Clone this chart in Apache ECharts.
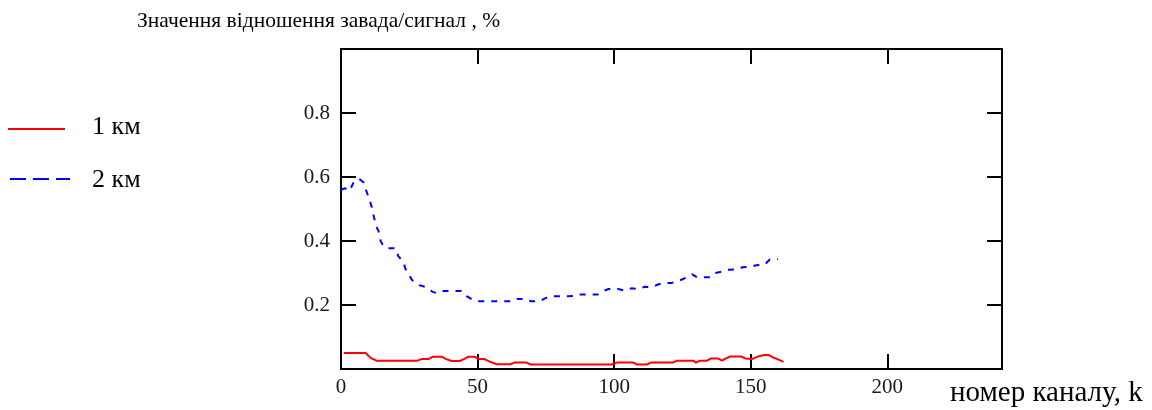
<!DOCTYPE html>
<html>
<head>
<meta charset="utf-8">
<style>
  html, body { margin: 0; padding: 0; background: #fff; }
  #chart { width: 1152px; height: 410px; }
</style>
<script src="https://cdn.jsdelivr.net/npm/echarts@6/dist/echarts.min.js"></script>
</head>
<body>
<div id="chart"></div>
<script>
// Channel number k and the noise/signal ratio for each cable length
const k1km = [1, 9, 11, 13, 28, 29.5, 32, 33.5, 37, 38.5, 40.5, 43.5, 45, 46.5, 49, 50.5, 52.5, 54.5, 57, 62, 63.5, 68, 69.5, 99, 101, 107, 108.5, 112, 113.5, 121.5, 123, 129, 130, 131.5, 134, 135.5, 138, 139.5, 141, 142.5, 146.5, 148, 150.5, 153, 155, 156.5, 158.5, 160, 162];
const v1km = [0.050, 0.050, 0.034, 0.026, 0.026, 0.031, 0.031, 0.038, 0.038, 0.031, 0.025, 0.025, 0.031, 0.038, 0.038, 0.031, 0.031, 0.023, 0.015, 0.015, 0.020, 0.020, 0.014, 0.014, 0.020, 0.020, 0.014, 0.014, 0.020, 0.020, 0.026, 0.026, 0.020, 0.026, 0.026, 0.033, 0.033, 0.026, 0.033, 0.039, 0.039, 0.033, 0.031, 0.040, 0.044, 0.044, 0.035, 0.030, 0.022];

const k2km = [0, 1.5, 2.6, 3.6, 5, 7, 8.4, 9.2, 10.4, 11.3, 12.2, 13, 13.8, 14.5, 15.5, 17, 20, 21, 22.8, 23.5, 24.6, 26, 28.6, 31, 33.6, 35.5, 37.6, 40, 44, 46, 47.7, 50, 58, 63, 64.5, 68, 69.5, 73, 74.5, 76.4, 83, 85, 87, 94, 96.4, 98, 101.5, 104, 106.3, 109, 111.2, 114, 116, 118, 121, 123.4, 125.5, 127, 128.6, 130.3, 135.2, 137, 140.5, 142, 145.3, 147, 150.3, 152, 155.1, 157, 160];
const v2km = [0.560, 0.565, 0.556, 0.565, 0.590, 0.592, 0.582, 0.558, 0.530, 0.505, 0.470, 0.444, 0.430, 0.400, 0.385, 0.377, 0.377, 0.352, 0.336, 0.315, 0.299, 0.278, 0.262, 0.256, 0.241, 0.236, 0.244, 0.244, 0.244, 0.228, 0.219, 0.212, 0.212, 0.212, 0.219, 0.219, 0.212, 0.212, 0.220, 0.227, 0.227, 0.228, 0.233, 0.233, 0.245, 0.250, 0.250, 0.245, 0.252, 0.250, 0.257, 0.256, 0.264, 0.269, 0.269, 0.275, 0.282, 0.290, 0.296, 0.287, 0.287, 0.300, 0.306, 0.310, 0.312, 0.318, 0.320, 0.324, 0.326, 0.342, 0.343];

const seriesNames = ['1 км', '2 км'];
const titleText = 'Значення відношення завада/сигнал , %';
const xAxisTitle = 'номер каналу, k';

const serif = '"Liberation Serif", "DejaVu Serif", serif';
const RED = '#ff0000';
const BLUE = '#0000ff';

const pairs = (xs, ys) => xs.map((x, i) => [x, ys[i]]);

const tickStyle = { show: true, inside: true, length: 15, lineStyle: { color: '#000', width: 2 } };
const lineStyleAxis = { show: true, onZero: false, lineStyle: { color: '#000', width: 2 } };

const chart = echarts.init(document.getElementById('chart'), null, { renderer: 'canvas' });

chart.setOption({
  animation: false,
  backgroundColor: '#fff',
  grid: { left: 341, top: 49, right: 150, bottom: 41, containLabel: false },
  xAxis: [
    { type: 'value', position: 'bottom', min: 0, max: 242, interval: 50,
      axisLine: lineStyleAxis, axisTick: tickStyle, splitLine: { show: false },
      axisLabel: { show: true, margin: 8, fontFamily: serif, fontSize: 21, color: '#1a1a1a',
        formatter: v => (v % 50 === 0 ? String(v) : '') } },
    { type: 'value', position: 'top', min: 0, max: 242, interval: 50,
      axisLine: lineStyleAxis, axisTick: tickStyle, splitLine: { show: false },
      axisLabel: { show: false } }
  ],
  yAxis: [
    { type: 'value', position: 'left', min: 0, max: 1, interval: 0.2,
      axisLine: lineStyleAxis, axisTick: tickStyle, splitLine: { show: false },
      axisLabel: { show: true, margin: 11, fontFamily: serif, fontSize: 21, color: '#1a1a1a',
        formatter: v => (v > 0.01 && v < 0.99 ? v.toFixed(1) : '') } },
    { type: 'value', position: 'right', min: 0, max: 1, interval: 0.2,
      axisLine: lineStyleAxis, axisTick: tickStyle, splitLine: { show: false },
      axisLabel: { show: false } }
  ],
  series: [
    { name: seriesNames[0], type: 'line', data: pairs(k1km, v1km), showSymbol: false, symbol: 'none',
      lineStyle: { color: RED, width: 2 }, z: 3 },
    { name: seriesNames[1], type: 'line', data: pairs(k2km, v2km), showSymbol: false, symbol: 'none',
      lineStyle: { color: BLUE, width: 2, type: [6, 7] }, z: 3 }
  ],
  graphic: [
    { type: 'text', x: 137, y: 21,
      style: { text: titleText, font: '21.5px ' + serif, fill: '#000', textVerticalAlign: 'middle' } },
    { type: 'text', x: 950, y: 393,
      style: { text: xAxisTitle, font: '29px ' + serif, fill: '#000', textVerticalAlign: 'middle' } },
    { type: 'line', shape: { x1: 8, y1: 129, x2: 65, y2: 129 }, style: { stroke: RED, lineWidth: 2 } },
    { type: 'text', x: 92, y: 127,
      style: { text: seriesNames[0], font: '26px ' + serif, fill: '#000', textVerticalAlign: 'middle' } },
    { type: 'line', shape: { x1: 10, y1: 179, x2: 70, y2: 179 }, style: { stroke: BLUE, lineWidth: 2, lineDash: [16, 7] } },
    { type: 'text', x: 92, y: 180,
      style: { text: seriesNames[1], font: '26px ' + serif, fill: '#000', textVerticalAlign: 'middle' } }
  ]
});
</script>
</body>
</html>
